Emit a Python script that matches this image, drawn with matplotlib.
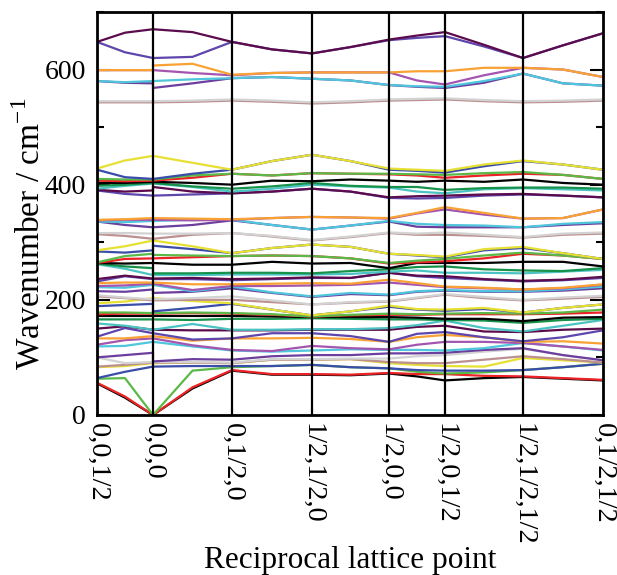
import matplotlib

matplotlib.use("Agg")
import matplotlib.pyplot as plt
from matplotlib.ticker import MultipleLocator


OUTPUT_PATH = "out.png"

# high-symmetry points along the path (cumulative k distance)
K_VERTICES = [0.0, 0.56, 1.35, 2.15, 2.92, 3.48, 4.26, 5.06]
K_LABELS = ["0,0,1/2", "0,0,0", "0,1/2,0", "1/2,1/2,0", "1/2,0,0",
            "1/2,0,1/2", "1/2,1/2,1/2", "0,1/2,1/2"]

# xmgrace default colour cycle (slightly muted, as printed)
GRACE_COLORS = ["#000000", "#ec2326", "#5ab947", "#3a4da8", "#e6e033",
                "#bc9090", "#d2d2d2", "#6c3f9e", "#4fc6dc", "#a455b0",
                "#f9a233", "#5e46ad", "#5c0c4c", "#4cc3c3", "#17924a"]

# frequencies in cm-1, 16 samples per band:
# vertex, mid, Gamma(from left), Gamma(to right), mid, vertex, ... , vertex
bands_low = [
    [55, 30, 0, 0, 46, 77, 70, 70, 69, 72, 67, 60, 64, 66, 63, 60],
    [56, 32, 0, 0, 48, 78, 71, 71, 70, 73, 71, 71, 68, 67, 64, 61],
    [63, 64, 0, 0, 77, 83, 85, 87, 83, 81, 75, 72, 74, 78, 83, 89],
    [64, 75, 84, 84, 85, 85, 85, 87, 83, 81, 78, 77, 77, 78, 83, 89],
    [83, 85, 90, 90, 91, 90, 96, 96, 97, 90, 87, 85, 84, 99, 95, 91],
    [84, 87, 91, 91, 91, 90, 96, 96, 97, 92, 90, 90, 96, 102, 97, 91],
    [100, 90, 92, 92, 92, 91, 97, 97, 98, 98, 102, 104, 110, 115, 104, 95],
    [100, 104, 108, 93, 97, 96, 102, 104, 104, 107, 107, 108, 113, 116, 104, 95],
    [119, 120, 127, 127, 119, 112, 110, 112, 114, 113, 113, 112, 116, 125, 119, 112],
    [122, 130, 133, 133, 121, 113, 111, 120, 116, 114, 122, 127, 127, 125, 119, 113],
    [133, 133, 137, 137, 129, 133, 133, 134, 132, 127, 135, 139, 135, 127, 128, 124],
    [136, 151, 142, 142, 131, 133, 142, 142, 137, 127, 141, 144, 135, 128, 135, 147],
    [150, 154, 148, 148, 147, 147, 147, 148, 148, 148, 153, 155, 145, 144, 148, 150],
    [159, 155, 148, 148, 158, 148, 148, 149, 149, 151, 156, 164, 151, 145, 155, 165],
    [166, 166, 166, 166, 165, 167, 167, 168, 167, 166, 166, 165, 164, 160, 165, 167],
]

bands_mid = [
    [172, 172, 172, 172, 172, 172, 171, 170, 170, 170, 169, 167, 167, 163, 169, 170],
    [175, 176, 176, 176, 177, 176, 174, 171, 173, 174, 174, 175, 175, 175, 176, 178],
    [178, 178, 177, 177, 178, 177, 175, 171, 174, 176, 175, 176, 177, 176, 178, 183],
    [189, 191, 193, 180, 186, 193, 183, 173, 180, 188, 183, 181, 184, 178, 186, 192],
    [194, 197, 203, 203, 198, 194, 183, 173, 180, 190, 184, 183, 186, 178, 186, 192],
    [206, 203, 199, 199, 200, 200, 196, 192, 195, 197, 203, 209, 203, 199, 202, 205],
    [208, 204, 201, 201, 203, 206, 199, 192, 196, 198, 204, 210, 205, 200, 204, 207],
    [215, 214, 218, 212, 214, 220, 212, 205, 210, 208, 214, 216, 214, 214, 216, 220],
    [222, 221, 226, 226, 215, 223, 213, 206, 212, 209, 215, 217, 215, 215, 218, 223],
    [224, 225, 228, 228, 217, 224, 224, 225, 226, 230, 226, 222, 220, 218, 220, 226],
    [229, 230, 230, 230, 227, 227, 228, 229, 228, 235, 229, 223, 221, 218, 221, 227],
    [232, 241, 236, 236, 236, 234, 236, 238, 238, 247, 241, 238, 235, 232, 234, 238],
    [236, 242, 237, 237, 238, 236, 237, 239, 238, 247, 242, 241, 236, 233, 235, 240],
    [262, 254, 243, 243, 243, 244, 244, 244, 245, 249, 251, 247, 247, 246, 249, 252],
    [263, 258, 255, 246, 246, 247, 247, 246, 250, 253, 257, 258, 253, 251, 250, 255],
]

bands_upper = [
    [264, 263, 264, 264, 261, 261, 266, 263, 264, 255, 264, 264, 264, 266, 266, 258],
    [264, 271, 272, 272, 274, 276, 277, 276, 272, 263, 265, 267, 272, 280, 277, 271],
    [265, 276, 280, 278, 277, 276, 277, 276, 272, 264, 268, 271, 277, 282, 277, 271],
    [284, 282, 286, 294, 288, 281, 290, 296, 292, 280, 277, 274, 286, 290, 281, 271],
    [286, 293, 303, 303, 293, 281, 290, 296, 292, 280, 278, 275, 288, 292, 281, 271],
    [314, 311, 306, 306, 313, 316, 310, 303, 309, 316, 313, 313, 311, 308, 313, 315],
    [316, 316, 315, 315, 315, 316, 311, 304, 310, 317, 315, 317, 313, 309, 315, 317],
    [336, 330, 326, 326, 330, 338, 330, 322, 329, 336, 327, 326, 326, 326, 330, 333],
    [336, 335, 337, 337, 339, 339, 330, 322, 329, 337, 332, 330, 329, 326, 332, 335],
    [338, 339, 339, 339, 338, 339, 342, 344, 343, 341, 350, 357, 348, 341, 342, 357],
    [339, 340, 342, 342, 341, 340, 342, 344, 343, 342, 351, 361, 351, 341, 342, 357],
    [390, 384, 381, 381, 383, 385, 388, 393, 388, 377, 376, 377, 381, 383, 381, 378],
    [391, 388, 390, 396, 388, 385, 388, 393, 388, 378, 380, 381, 383, 384, 381, 378],
    [393, 398, 402, 402, 396, 388, 393, 400, 397, 395, 388, 385, 392, 394, 392, 390],
    [398, 400, 403, 403, 397, 393, 397, 403, 398, 396, 396, 391, 394, 395, 395, 393],
]

bands_high = [
    [403, 403, 405, 405, 403, 400, 407, 406, 409, 407, 405, 407, 405, 409, 403, 400],
    [407, 406, 407, 407, 412, 419, 416, 420, 419, 418, 416, 412, 416, 419, 417, 410],
    [410, 409, 409, 409, 416, 419, 416, 420, 419, 419, 418, 417, 420, 422, 417, 410],
    [426, 413, 410, 410, 419, 426, 441, 452, 441, 426, 424, 421, 432, 441, 435, 426],
    [428, 442, 450, 450, 438, 426, 441, 452, 441, 428, 426, 424, 435, 442, 435, 426],
    [543, 543, 543, 543, 544, 546, 544, 541, 543, 546, 547, 548, 545, 543, 544, 546],
    [545, 545, 545, 545, 546, 548, 546, 543, 545, 548, 549, 550, 547, 545, 546, 548],
    [580, 577, 576, 568, 576, 585, 587, 584, 581, 573, 570, 568, 577, 593, 576, 572],
    [580, 578, 580, 580, 583, 585, 587, 584, 581, 573, 571, 570, 580, 593, 576, 572],
    [599, 599, 599, 599, 594, 590, 594, 595, 595, 595, 581, 574, 590, 603, 600, 587],
    [599, 599, 599, 607, 610, 591, 594, 595, 595, 595, 597, 597, 603, 603, 600, 587],
    [648, 630, 620, 620, 622, 648, 635, 628, 639, 651, 655, 658, 640, 620, 642, 663],
    [648, 664, 670, 670, 665, 648, 635, 628, 639, 652, 659, 665, 643, 620, 642, 663],
]


def path_positions(vertices):
    xs = [vertices[0]]
    for start, end in zip(vertices[:-1], vertices[1:]):
        xs += [(start + end) / 2, end]
    # Gamma is sampled twice (approach from both sides)
    xs.insert(3, xs[2])
    return xs


def plot_dispersion():
    plt.rcParams["font.family"] = ["Liberation Serif", "DejaVu Serif"]
    plt.rcParams["mathtext.fontset"] = "custom"
    plt.rcParams["mathtext.rm"] = "Liberation Serif"

    fig = plt.figure(figsize=(6.17, 5.75), dpi=100)
    ax = fig.add_axes([0.1572, 0.2783, 0.8201, 0.7009])

    kx = path_positions(K_VERTICES)
    all_bands = bands_low + bands_mid + bands_upper + bands_high
    for index, band in enumerate(all_bands):
        ax.plot(kx, band, color=GRACE_COLORS[index % len(GRACE_COLORS)],
                linewidth=1.6, solid_joinstyle="miter")

    for vertex in K_VERTICES[1:-1]:
        ax.axvline(vertex, color="black", linewidth=1.6, zorder=3)

    ax.set_xlim(K_VERTICES[0], K_VERTICES[-1])
    ax.set_ylim(0, 700)
    ax.set_xticks(K_VERTICES)
    ax.set_xticklabels(K_LABELS, rotation=-90, fontsize=20.5, va="top")
    ax.tick_params(axis="x", length=0, pad=6)

    ax.yaxis.set_major_locator(MultipleLocator(200))
    ax.yaxis.set_minor_locator(MultipleLocator(100))
    ax.tick_params(axis="y", which="both", direction="in", left=True,
                   right=True, labelsize=20, width=1.5, pad=8)
    ax.tick_params(axis="y", which="major", length=9.5)
    ax.tick_params(axis="y", which="minor", length=5)

    for spine in ax.spines.values():
        spine.set_linewidth(2)
        spine.set_zorder(4)

    ax.set_ylabel("Wavenumber / cm$^{-1}$", fontsize=24)
    ax.yaxis.set_label_coords(-0.1, 0.45)
    ax.set_xlabel("Reciprocal lattice point", fontsize=22.5)
    ax.xaxis.set_label_coords(0.5, -0.325)

    fig.savefig(OUTPUT_PATH, dpi=100)
    plt.close(fig)


def main():
    plot_dispersion()
    print(OUTPUT_PATH)


if __name__ == "__main__":
    main()
